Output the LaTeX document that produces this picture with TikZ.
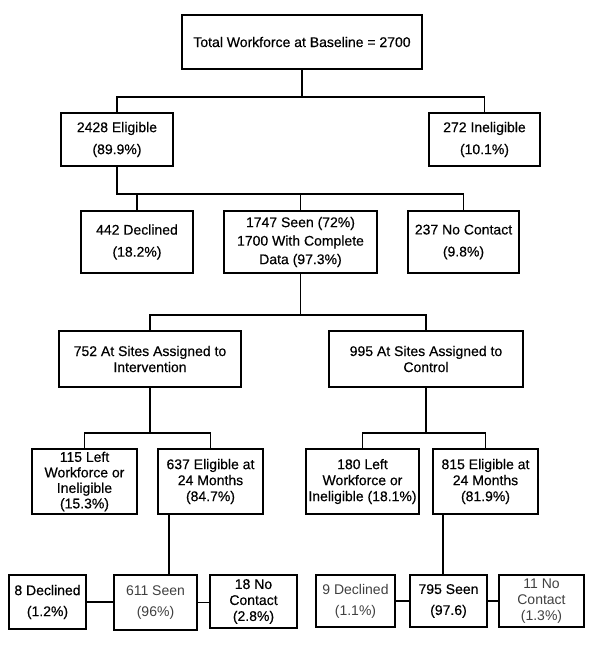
\documentclass[tikz,border=0pt]{standalone}
\usepackage{fontspec}
\setmainfont{Liberation Sans}[FakeBold=0.4]
\newfontfamily\lightfont{Liberation Sans}

\tikzset{
  box/.style={draw, line width=1.8pt, inner sep=0pt, align=center,
    font=\fontsize{14}{16}\selectfont},
  wide/.style={font=\fontsize{14}{22}\selectfont},
  faint/.style={line width=1.3pt, text=black!75},
  link/.style={line width=1.8pt}
}

\begin{document}
\begin{tikzpicture}[x=1pt, y=-1pt]
\useasboundingbox (0,0) rectangle (600,653);

% baseline and eligibility
\node [box, minimum width=240pt, minimum height=54pt] (Total) at (302,42) {Total Workforce at Baseline = 2700};
\node [box, wide, minimum width=112pt, minimum height=53pt] (Elig) at (117,139.5) {2428 Eligible\\(89.9\%)};
\node [box, wide, minimum width=111pt, minimum height=53pt] (Inelig) at (484.5,139.5) {272 Ineligible\\(10.1\%)};

% first contact
\node [box, wide, minimum width=112pt, minimum height=62pt] (Decl) at (137,242) {442 Declined\\(18.2\%)};
\node [box, font=\fontsize{14}{18.5}\selectfont, minimum width=153pt, minimum height=62pt] (Seen) at (300.5,242) {1747 Seen (72\%)\\1700 With Complete\\Data (97.3\%)};
\node [box, wide, minimum width=111pt, minimum height=62pt] (NoCon) at (463.5,242) {237 No Contact\\(9.8\%)};

% assignment of sites
\node [box, minimum width=182pt, minimum height=56pt] (Interv) at (150,359) {752 At Sites Assigned to\\Intervention};
\node [box, minimum width=194pt, minimum height=56pt] (Contr) at (426,359) {995 At Sites Assigned to\\Control};

% 24 months
\node [box, font=\fontsize{14}{15.5}\selectfont, minimum width=105pt, minimum height=65pt] (LeftI) at (84.5,481.5) {115 Left\\Workforce or\\Ineligible\\(15.3\%)};
\node [box, minimum width=105pt, minimum height=65pt] (EligI) at (210.5,481.5) {637 Eligible at\\24 Months\\(84.7\%)};
\node [box, minimum width=113pt, minimum height=65pt] (LeftC) at (362.5,481.5) {180 Left\\Workforce or\\Ineligible (18.1\%)};
\node [box, minimum width=105pt, minimum height=65pt] (EligC) at (485.5,481.5) {815 Eligible at\\24 Months\\(81.9\%)};

% follow-up, intervention
\node [box, font=\fontsize{14}{21}\selectfont, minimum width=77pt, minimum height=54pt] (DeclI) at (47.5,602) {8 Declined\\(1.2\%)};
\node [box, faint, font=\lightfont\fontsize{14}{21}\selectfont, minimum width=83pt, minimum height=55pt] (SeenI) at (155.5,602.5) {611 Seen\\(96\%)};
\node [box, minimum width=87pt, minimum height=53pt] (NoConI) at (253.5,601.5) {18 No\\Contact\\(2.8\%)};

% follow-up, control
\node [box, faint, font=\lightfont\fontsize{14}{21}\selectfont, minimum width=79pt, minimum height=52pt] (DeclC) at (355.5,601) {9 Declined\\(1.1\%)};
\node [box, font=\fontsize{14}{21}\selectfont, minimum width=77pt, minimum height=52pt] (SeenC) at (448.5,601) {795 Seen\\(97.6)};
\node [box, faint, font=\lightfont\fontsize{14}{16}\selectfont, minimum width=85pt, minimum height=52pt] (NoConC) at (541.5,601) {11 No\\Contact\\(1.3\%)};

% junctions
\coordinate (J1) at (302,97);
\coordinate (J2) at (117,194);
\coordinate (J3) at (300.5,315);
\coordinate (J4) at (150,433);
\coordinate (J5) at (426,433);
\coordinate (K1) at (169,0);
\coordinate (K2) at (443,0);

\draw [link] (Total) -- (J1);
\draw [link] (Elig.north) |- (J1) -| (Inelig.north);
\draw [link] (Elig.south) -- (J2) -| (NoCon.north);
\draw [link] (J2 -| Decl.north) -- (Decl.north);
\draw [link] (J2 -| Seen.north) -- (Seen.north);
\draw [link] (Seen.south) -- (J3);
\draw [link] (Interv.north) |- (J3) -| (Contr.north);
\draw [link] (Interv.south) -- (J4);
\draw [link] (LeftI.north) |- (J4) -| (EligI.north);
\draw [link] (Contr.south) -- (J5);
\draw [link] (LeftC.north) |- (J5) -| (EligC.north);
\draw [link] (EligI.south -| K1) -- (SeenI.north -| K1);
\draw [link] (EligC.south -| K2) -- (SeenC.north -| K2);
\draw [link] (DeclI.east) -- (DeclI.east -| SeenI.west);
\draw [link] (SeenI.east) -- (SeenI.east -| NoConI.west);
\draw [link] (DeclC.east) -- (DeclC.east -| SeenC.west);
\draw [link] (SeenC.east) -- (SeenC.east -| NoConC.west);

\end{tikzpicture}
\end{document}
